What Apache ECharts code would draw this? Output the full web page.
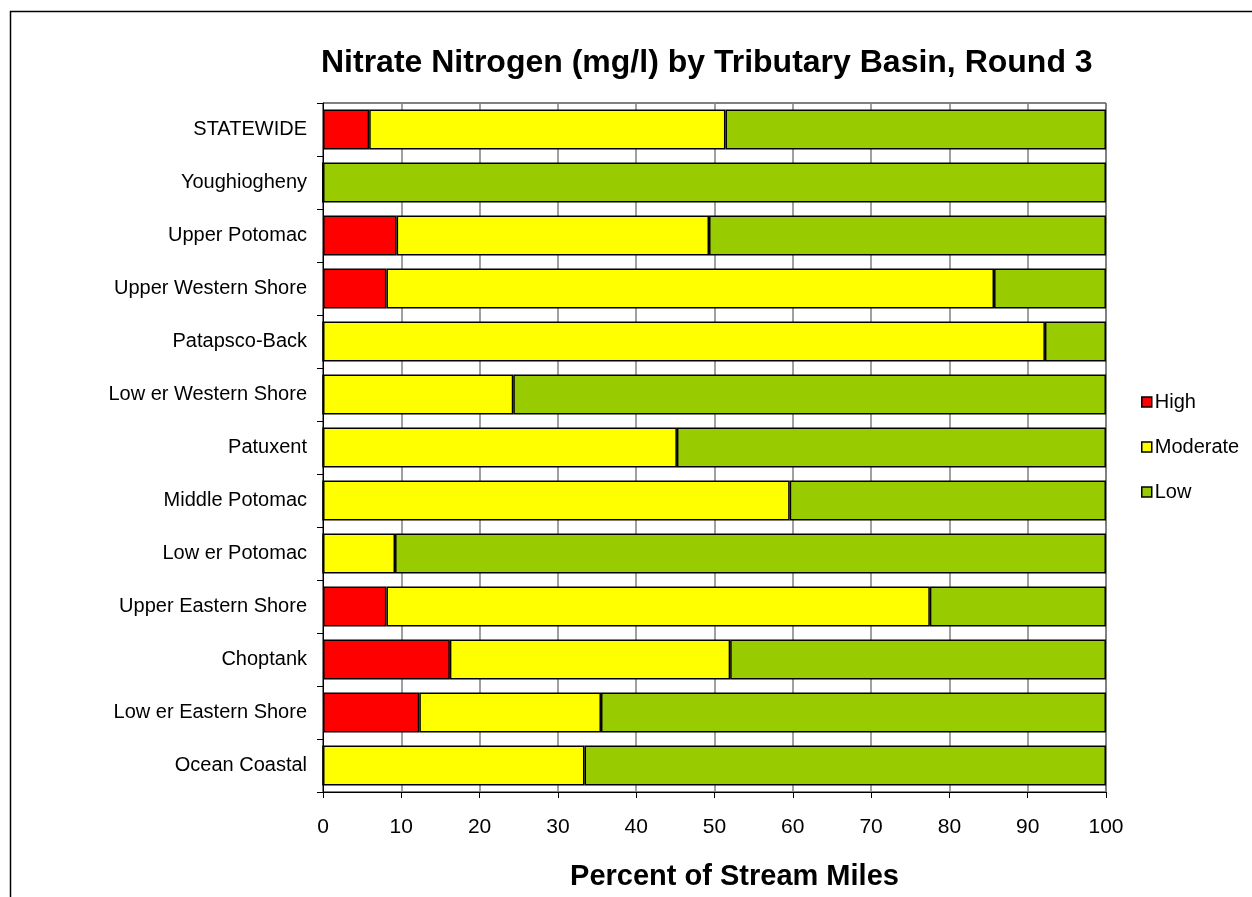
<!DOCTYPE html>
<html>
<head>
<meta charset="utf-8">
<title>Nitrate Nitrogen by Tributary Basin</title>
<script src="https://cdn.jsdelivr.net/npm/echarts@6/dist/echarts.min.js"></script>
<style>
  html, body { margin: 0; padding: 0; background: #fff; }
  #main { width: 1252px; height: 897px; }
</style>
</head>
<body>
<div id="main"></div>
<script>
// basins, top to bottom as in the chart
var basins = ['STATEWIDE', 'Youghiogheny', 'Upper Potomac', 'Upper Western Shore',
  'Patapsco-Back', 'Low er Western Shore', 'Patuxent', 'Middle Potomac',
  'Low er Potomac', 'Upper Eastern Shore', 'Choptank', 'Low er Eastern Shore', 'Ocean Coastal'];

// percent of stream miles per class
var high     = [5.9, 0, 9.4, 8.1, 0, 0, 0, 0, 0, 8.1, 16.2, 12.3, 0];
var moderate = [45.5, 0, 39.9, 77.6, 92.2, 24.3, 45.2, 59.6, 9.2, 69.4, 35.8, 23.2, 33.4];
var low      = [48.6, 100, 50.7, 14.3, 7.8, 75.7, 54.8, 40.4, 90.8, 22.5, 48.0, 64.5, 66.6];

var xTicks = [0, 10, 20, 30, 40, 50, 60, 70, 80, 90, 100];

var myChart = echarts.init(document.getElementById('main'));
var fnt = '"Liberation Sans", Arial, sans-serif';

function serie(name, data, color) {
  return {
    name: name,
    type: 'bar',
    stack: 'total',
    barWidth: 40,
    data: data,
    itemStyle: { color: color, borderColor: '#000', borderWidth: 1.5 },
    emphasis: { disabled: true }
  };
}

option = {
  animation: false,
  backgroundColor: '#fff',
  textStyle: { fontFamily: fnt },
  title: {
    text: 'Nitrate Nitrogen (mg/l) by Tributary Basin, Round 3',
    left: 316,
    top: 42,
    textStyle: { fontFamily: fnt, fontSize: 32, fontWeight: 'bold', color: '#000' }
  },
  legend: {
    orient: 'vertical',
    left: 1136,
    top: 387,
    itemWidth: 10,
    itemHeight: 10,
    itemGap: 25,
    icon: 'rect',
    textStyle: { fontFamily: fnt, fontSize: 20, color: '#000', padding: [0, 0, 0, -2] },
    itemStyle: { borderColor: '#000', borderWidth: 1.5 },
    data: ['High', 'Moderate', 'Low']
  },
  grid: {
    left: 323, right: 146, top: 103, bottom: 105,
    show: true, borderColor: '#000', borderWidth: 1
  },
  xAxis: {
    type: 'value',
    min: 0, max: 100, interval: 10,
    name: 'Percent of Stream Miles',
    nameLocation: 'middle',
    nameGap: 70,
    nameTextStyle: { fontFamily: fnt, fontSize: 29, fontWeight: 'bold', color: '#000', padding: [0, 0, 0, 40] },
    axisLine: { show: true, lineStyle: { color: '#000', width: 1 } },
    axisTick: { show: true, length: 6, lineStyle: { color: '#000' } },
    axisLabel: {
      fontFamily: fnt, fontSize: 21, color: '#000', margin: 25,
      formatter: function (v) { return xTicks.indexOf(v) >= 0 ? String(v) : ''; }
    },
    splitLine: { show: true, lineStyle: { color: '#808080', width: 1.5 } }
  },
  yAxis: {
    type: 'category',
    inverse: true,
    data: basins,
    axisLine: { show: true, lineStyle: { color: '#000', width: 1 } },
    axisTick: { show: true, length: 6, lineStyle: { color: '#000' } },
    axisLabel: { fontFamily: fnt, fontSize: 20, color: '#000', margin: 16 }
  },
  graphic: [{
    type: 'rect',
    shape: { x: 10.5, y: 11.5, width: 1400, height: 1000 },
    style: { fill: 'none', stroke: '#000', lineWidth: 1.5 },
    silent: true
  }],
  series: [
    serie('High', high, '#FF0000'),
    serie('Moderate', moderate, '#FFFF00'),
    serie('Low', low, '#99CC00')
  ]
};

myChart.setOption(option);
</script>
</body>
</html>
